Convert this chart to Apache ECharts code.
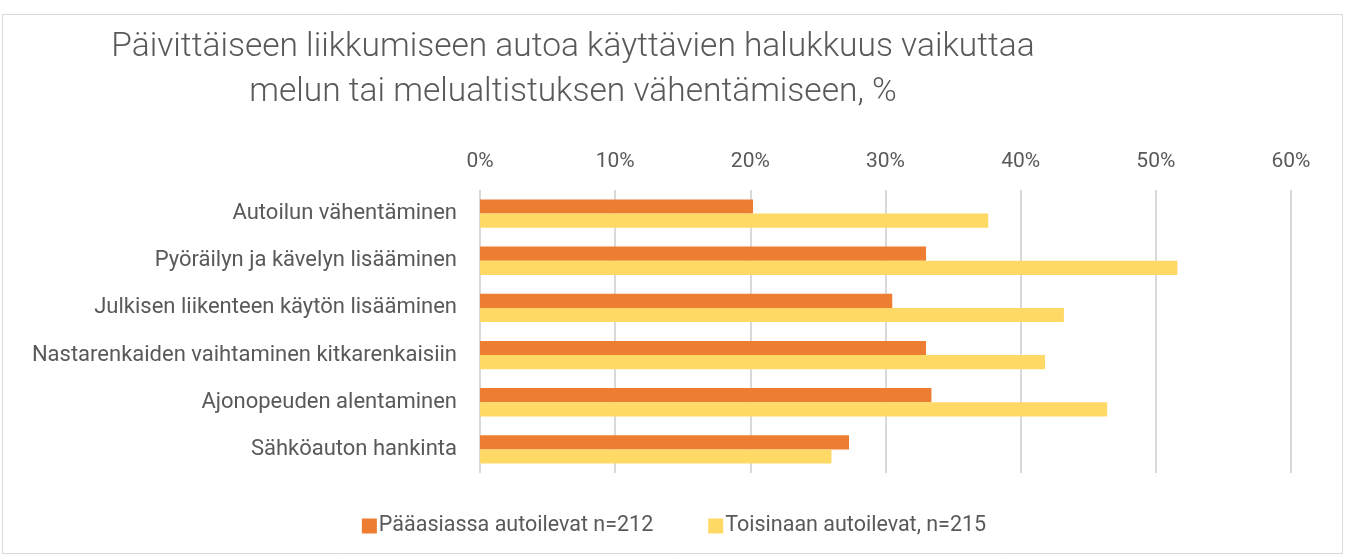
<!DOCTYPE html>
<html>
<head>
<meta charset="utf-8">
<script src="https://cdn.jsdelivr.net/npm/echarts@6/dist/echarts.min.js"></script>
<style>html,body{margin:0;padding:0;background:#fff}#c{width:1348px;height:556px}</style>
</head>
<body>
<div id="c"></div>
<script>
const categories = [
  "Autoilun vähentäminen",
  "Pyöräilyn ja kävelyn lisääminen",
  "Julkisen liikenteen käytön lisääminen",
  "Nastarenkaiden vaihtaminen kitkarenkaisiin",
  "Ajonopeuden alentaminen",
  "Sähköauton hankinta"
];
const seriesNames = ["Pääasiassa autoilevat n=212", "Toisinaan autoilevat, n=215"];
const mainlyDrivers = [20.2, 33.0, 30.5, 33.0, 33.4, 27.3];
const sometimesDrivers = [37.6, 51.6, 43.2, 41.8, 46.4, 26.0];
const xTicks = [0, 10, 20, 30, 40, 50, 60];

const FONT = "Roboto";
const chart = echarts.init(document.getElementById('c'), null, {renderer: 'canvas'});
chart.setOption({
  backgroundColor: '#fff',
  animation: false,
  graphic: [{
    type: 'rect', shape: {x: 2.5, y: 14.5, width: 1340, height: 539},
    style: {fill: 'none', stroke: '#d9d9d9', lineWidth: 1}, silent: true
  }],
  title: {
    text: "Päivittäiseen liikkumiseen autoa käyttävien halukkuus vaikuttaa\nmelun tai melualtistuksen vähentämiseen, %",
    left: 568, top: 20, textAlign: 'center',
    textStyle: {fontFamily: FONT, fontWeight: 300, fontSize: 33.5, color: '#595959', lineHeight: 45, align: 'center'}
  },
  legend: {
    bottom: 14, left: 'center', itemWidth: 15, itemHeight: 15, itemGap: 55,
    icon: 'rect',
    textStyle: {fontFamily: FONT, fontSize: 21.5, color: '#595959', padding: [0, 0, 0, -3]},
    data: seriesNames
  },
  grid: {left: 480, right: 57, top: 190, height: 283, containLabel: false},
  xAxis: {
    type: 'value', position: 'top', min: xTicks[0], max: xTicks[xTicks.length - 1], interval: 10,
    axisLine: {show: false}, axisTick: {show: false},
    axisLabel: {formatter: v => v + '%', fontFamily: FONT, fontSize: 21, color: '#595959', margin: 18},
    splitLine: {lineStyle: {color: '#d9d9d9', width: 2}}
  },
  yAxis: {
    type: 'category', inverse: true, data: categories,
    axisLine: {show: false}, axisTick: {show: false},
    axisLabel: {fontFamily: FONT, fontSize: 22, color: '#595959', margin: 23}
  },
  series: [
    {name: seriesNames[0], type: 'bar', data: mainlyDrivers, itemStyle: {color: '#ED7D31'}, barGap: '0%', barCategoryGap: '40%'},
    {name: seriesNames[1], type: 'bar', data: sometimesDrivers, itemStyle: {color: '#FFD966'}, barGap: '0%', barCategoryGap: '40%'}
  ]
});
</script>
</body>
</html>
